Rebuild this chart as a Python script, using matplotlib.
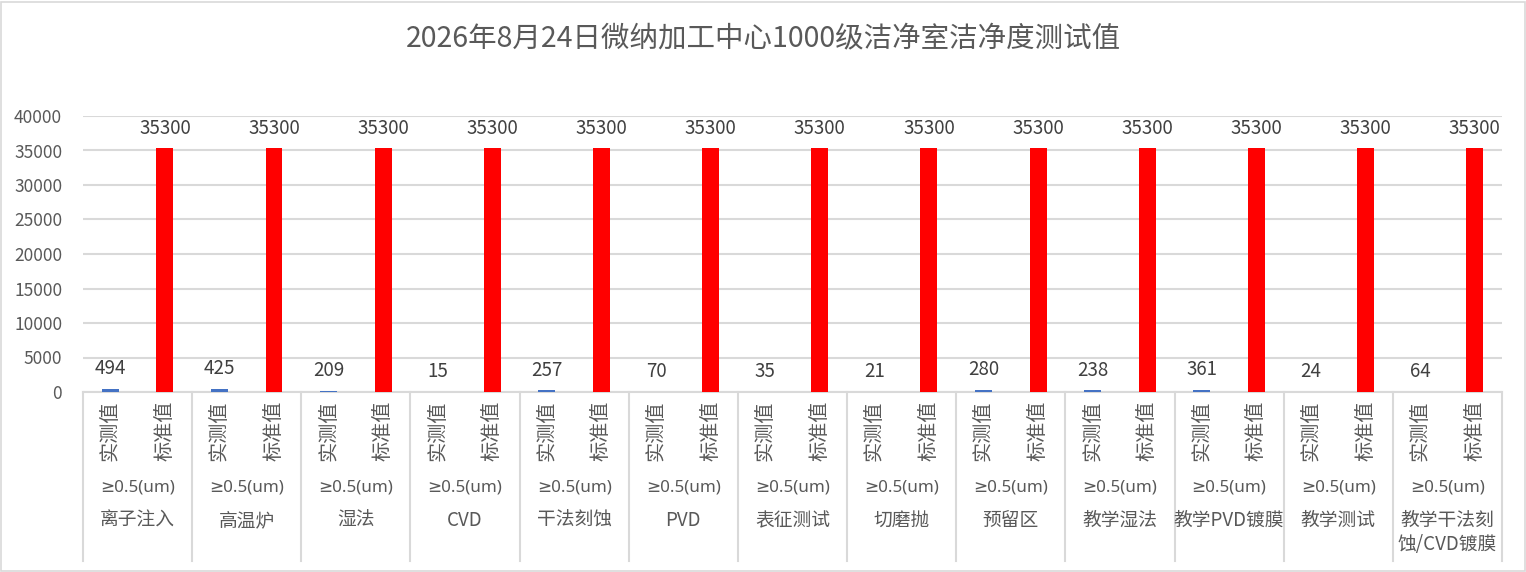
import matplotlib
matplotlib.use("Agg")
import matplotlib.pyplot as plt
import matplotlib.transforms as mtransforms
from matplotlib.patches import Rectangle

plt.rcParams["font.family"] = ["Noto Sans CJK SC", "DejaVu Sans"]

title = "2026年8月24日微纳加工中心1000级洁净室洁净度测试值"
areas = ["离子注入", "高温炉", "湿法", "CVD", "干法刻蚀", "PVD", "表征测试",
         "切磨抛", "预留区", "教学湿法", "教学PVD镀膜", "教学测试",
         "教学干法刻\n蚀/CVD镀膜"]
size_label = "≥0.5(um)"
series_labels = ["实测值", "标准值"]
measured = [494, 425, 209, 15, 257, 70, 35, 21, 280, 238, 361, 24, 64]
standard = [35300] * len(areas)
y_ticks = list(range(0, 40001, 5000))

BLUE = "#4472C4"
RED = "#FF0000"
GRID = "#D9D9D9"
TEXT = "#595959"
VALUE = "#404040"

W, H = 1526, 572
fig = plt.figure(figsize=(W / 100, H / 100), dpi=100)
fig.patch.set_facecolor("white")
fig.add_artist(Rectangle((1.5 / W, 1.5 / H), 1 - 3 / W, 1 - 3 / H,
                         transform=fig.transFigure, fill=False,
                         edgecolor=GRID, linewidth=1.2))

left, right = 83 / W, 1502 / W
bottom, top = 1 - 392 / H, 1 - 116 / H
ax = fig.add_axes([left, bottom, right - left, top - bottom])

n = len(areas)
x_meas = [2 * i + 0.5 for i in range(n)]
x_std = [2 * i + 1.5 for i in range(n)]
bar_w = 0.31

ax.bar(x_meas, measured, width=bar_w, color=BLUE, zorder=3)
ax.bar(x_std, standard, width=bar_w, color=RED, zorder=3)

for x, v in zip(x_meas + x_std, measured + standard):
    ax.annotate(str(v), (x, v), xytext=(0, 7), textcoords="offset points",
                ha="center", va="bottom", fontsize=13.5, color=VALUE)

ax.set_xlim(0, 2 * n)
ax.set_ylim(0, 40000)
ax.set_yticks(y_ticks)
ax.set_yticklabels([str(t) for t in y_ticks], fontsize=12.5, color=TEXT)
ax.tick_params(axis="y", length=0, pad=15)
ax.set_xticks([])
ax.yaxis.grid(True, color=GRID, linewidth=1.5, zorder=0)
ax.set_axisbelow(True)
for side in ["left", "right", "top"]:
    ax.spines[side].set_visible(False)
ax.spines["bottom"].set_color(GRID)
ax.spines["bottom"].set_linewidth(1.5)

# category axis labels below the plot, positioned in pixels below the axis
trans = mtransforms.blended_transform_factory(ax.transData, fig.transFigure)


def fy(py):
    return 1 - py / H


for i in range(n):
    for x, lab in zip((x_meas[i], x_std[i]), series_labels):
        ax.text(x, fy(401), lab, transform=trans, rotation=90,
                ha="center", va="top", fontsize=14.5, color=TEXT)
    ax.text(2 * i + 1, fy(487), size_label, transform=trans,
            ha="center", va="center", fontsize=12.2,
            family=["Noto Sans", "DejaVu Sans"], color=TEXT)
    ax.text(2 * i + 1, fy(510), areas[i], transform=trans,
            ha="center", va="top", fontsize=13.5, color=TEXT,
            linespacing=1.2)

for k in range(n + 1):
    ax.plot([2 * k, 2 * k], [fy(392), fy(561)], transform=trans,
            color=GRID, linewidth=1.5, clip_on=False)

fig.text(0.5, fy(38), title, ha="center", va="center",
         fontsize=20.5, color=TEXT)

fig.savefig("out.png", dpi=100)
